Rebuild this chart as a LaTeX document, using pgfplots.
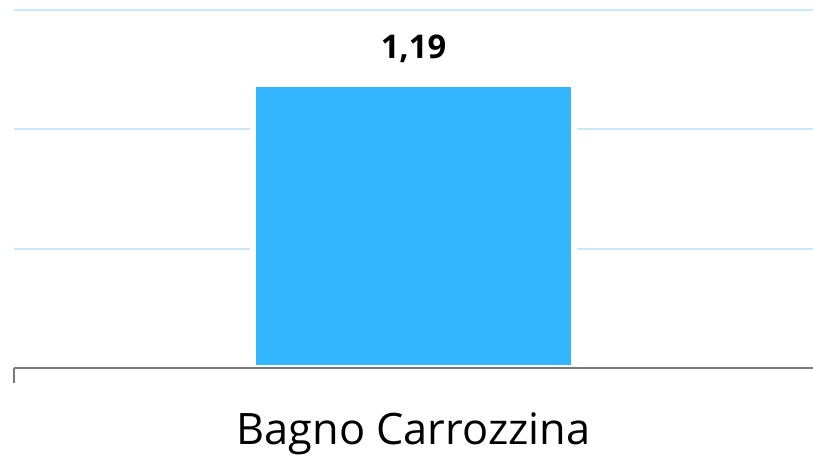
\documentclass[border=0pt]{standalone}
\usepackage{pgfplots}
\pgfplotsset{compat=1.18}
\usepackage{fontspec}
\setmainfont{Open Sans}
\definecolor{barblue}{HTML}{33B5FF}
\definecolor{gridblue}{HTML}{C9E6FB}
\definecolor{axisgray}{HTML}{7A7A7A}
\begin{document}
\begin{tikzpicture}
% 1px of the reference = 0.75pt
\useasboundingbox (0,0) rectangle (609.75pt,341.25pt);
\begin{axis}[
    at={(10.5pt,65.25pt)}, anchor=south west,
    scale only axis, width=599.25pt, height=268.5pt,
    xmin=-0.5, xmax=0.5, ymin=0, ymax=1.5,
    clip=false,
    axis x line*=bottom, axis y line*=left,
    x axis line style={draw=none}, y axis line style={draw=none},
    xtick={-0.5}, xticklabels={},
    major tick length=11pt, tick align=outside,
    x tick style={draw=axisgray, line width=1.6pt},
    y tick style={draw=none}, yticklabels={},
    extra x ticks={0}, extra x tick labels={Bagno Carrozzina},
    extra x tick style={major tick length=0pt,
        xticklabel style={anchor=base, yshift=-57pt}},
    ytick={0.5,1,1.5}, ymajorgrids,
    grid style={draw=gridblue, line width=1.6pt},
    every tick label/.append style={font=\fontsize{32.5}{38}\selectfont},
    ybar, bar width=240.75pt,
    nodes near coords,
    every node near coord/.append style={font=\fontsize{24.5}{28}\selectfont\bfseries, anchor=base, yshift=19pt},
    /pgf/number format/.cd, use comma, fixed, precision=2, assume math mode=true,
]
\addplot[fill=barblue, draw=white, line width=4.5pt] coordinates {(0,1.19)};
\draw[axisgray, line width=1.8pt] (axis cs:-0.5,0) -- (axis cs:0.5,0);
\end{axis}
\end{tikzpicture}
\end{document}
